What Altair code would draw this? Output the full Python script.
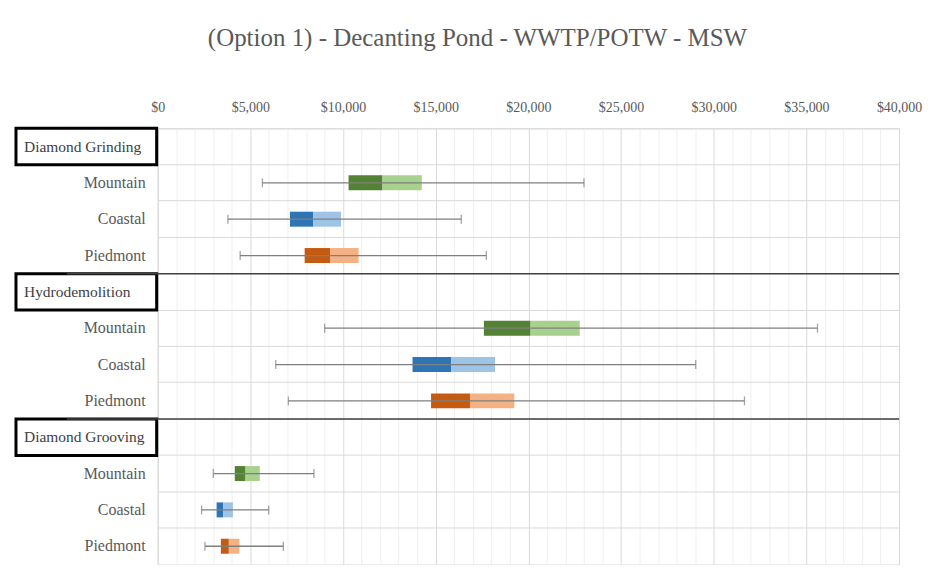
import altair as alt
import pandas as pd

methods = ["Diamond Grinding", "Hydrodemolition", "Diamond Grooving"]
regions = ["Mountain", "Coastal", "Piedmont"]
mins    = [5650, 3790, 4450, 9010, 6370, 7050, 3000, 2370, 2550]
q1s     = [10300, 7140, 7930, 17600, 13750, 14750, 4160, 3180, 3410]
medians = [12130, 8400, 9300, 20120, 15830, 16850, 4740, 3540, 3840]
q3s     = [14250, 9890, 10840, 22770, 18200, 19240, 5510, 4060, 4410]
maxs    = [23000, 16380, 17730, 35600, 29030, 31660, 8430, 5990, 6780]
tick_values = list(range(0, 40001, 1000))

dark_colors = ["#548235", "#2E75B6", "#C55A11"]
light_colors = ["#A9D18E", "#9DC3E6", "#F4B183"]

row_order = []
recs = []
hdr = []
i = 0
for m in methods:
    row_order.append(m)
    hdr.append({"row": m, "method": m})
    for r in regions:
        key = m + "|" + r
        row_order.append(key)
        recs.append({"row": key, "method": m, "region": r, "min": mins[i], "q1": q1s[i],
                     "median": medians[i], "q3": q3s[i], "max": maxs[i]})
        i += 1

df = pd.DataFrame(recs)
hdf = pd.DataFrame(hdr)
sepdf = hdf.iloc[1:]

W, H = 743, 437

yscale = alt.Scale(domain=row_order, paddingInner=0, paddingOuter=0)
yaxis = alt.Axis(grid=True, gridColor="#d9d9d9", labels=False, ticks=False, domain=False,
                 title=None, bandPosition=0)
xscale = alt.Scale(domain=[0, 40000], nice=False)
xaxis = alt.Axis(orient="top", values=tick_values, title=None, ticks=False, domain=False,
                 labelExpr="datum.value % 5000 === 0 ? '$' + format(datum.value, ',') : ''",
                 gridColor={"condition": {"test": "datum.value % 5000 === 0", "value": "#d9d9d9"},
                            "value": "#efefef"},
                 labelFont="Liberation Serif",
                 labelFontSize=14, labelColor="#595959", labelPadding=14, labelFlush=False)

Y = alt.Y("row:N", scale=yscale, axis=yaxis, sort=row_order)

base = alt.Chart(df)

dark = base.mark_bar(size=15).encode(
    x=alt.X("q1:Q", scale=xscale, axis=xaxis), x2="median:Q", y=Y,
    color=alt.Color("region:N", scale=alt.Scale(domain=regions, range=dark_colors), legend=None))
light = base.mark_bar(size=15).encode(
    x=alt.X("median:Q", scale=xscale, axis=xaxis), x2="q3:Q", y=Y,
    color=alt.Color("region:N", scale=alt.Scale(domain=regions, range=light_colors), legend=None))
whisk = base.mark_rule(color="#7f7f7f", strokeWidth=1.3).encode(
    x=alt.X("min:Q", scale=xscale, axis=xaxis), x2="max:Q", y=Y)
capmin = base.mark_tick(color="#7f7f7f", size=9, thickness=1.3).encode(
    x=alt.X("min:Q", scale=xscale, axis=xaxis), y=Y)
capmax = base.mark_tick(color="#7f7f7f", size=9, thickness=1.3).encode(
    x=alt.X("max:Q", scale=xscale, axis=xaxis), y=Y)
rlabels = base.mark_text(align="right", baseline="middle", fontSize=16, color="#595959",
                         font="Liberation Serif").encode(
    x=alt.value(-12), y=Y, text="region:N")

hbox = alt.Chart(hdf).mark_rect(fill="white", stroke="black", strokeWidth=3).encode(
    x=alt.value(-142), x2=alt.value(-1), y=Y)
htext = alt.Chart(hdf).mark_text(align="left", baseline="middle", fontSize=15.5, color="#404040",
                                 font="Liberation Serif").encode(
    x=alt.value(-134), y=Y, text="method:N")
seps = alt.Chart(sepdf).mark_rule(color="#404040", strokeWidth=1.5).encode(
    x=alt.value(-91), x2=alt.value(W), y=alt.Y("row:N", scale=yscale, axis=yaxis, sort=row_order,
                                               bandPosition=0))

chart = alt.layer(dark, light, whisk, capmin, capmax, rlabels, hbox, htext, seps).resolve_scale(
    color="independent"
).properties(
    width=W, height=H,
    padding={"left": 6, "top": 17, "right": 5, "bottom": 0},
    title=alt.TitleParams("(Option 1) - Decanting Pond - WWTP/POTW - MSW", font="Liberation Serif",
                          fontSize=25, fontWeight="normal", color="#595959", offset=50,
                          anchor="middle", dx=-51),
).configure_view(stroke="#d9d9d9").configure(font="Liberation Serif")

chart.save("out.html", embed_options={"renderer": "svg", "actions": False})
